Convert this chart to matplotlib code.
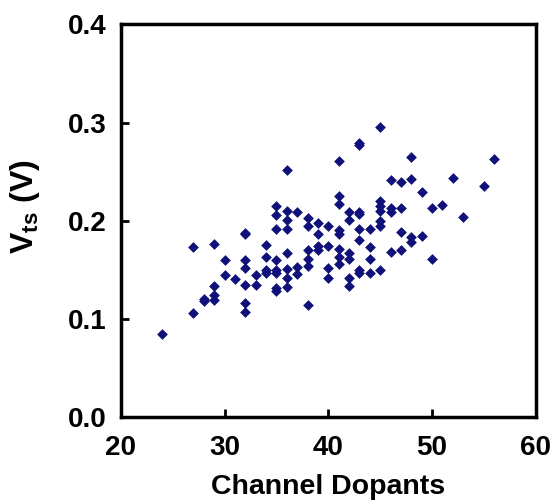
import matplotlib
matplotlib.use("Agg")
import matplotlib.pyplot as plt

dopants = [24,
           27, 27,
           28, 28,
           29, 29, 29, 29,
           30, 30,
           31,
           32, 32, 32, 32, 32, 32, 32,
           33, 33,
           34, 34, 34, 34,
           35, 35, 35, 35, 35, 35, 35, 35,
           36, 36, 36, 36, 36, 36, 36, 36,
           37, 37, 37,
           38, 38, 38, 38, 38, 38,
           39, 39, 39, 39,
           40, 40, 40, 40,
           41, 41, 41, 41, 41, 41, 41, 41,
           42, 42, 42, 42, 42, 42,
           43, 43, 43, 43, 43, 43, 43, 43,
           44, 44, 44, 44,
           45, 45, 45, 45, 45, 45, 45,
           46, 46, 46, 46,
           47, 47, 47, 47,
           48, 48, 48, 48,
           49, 49,
           50, 50,
           51, 52, 53, 55, 56]

vts = [0.085,
       0.173, 0.106,
       0.120, 0.118,
       0.176, 0.133, 0.124, 0.119,
       0.160, 0.145,
       0.141,
       0.188, 0.186, 0.160, 0.152, 0.135, 0.116, 0.107,
       0.145, 0.135,
       0.175, 0.163, 0.150, 0.147,
       0.215, 0.206, 0.192, 0.160, 0.150, 0.147, 0.131, 0.128,
       0.252, 0.210, 0.201, 0.192, 0.167, 0.151, 0.142, 0.132,
       0.209, 0.153, 0.146,
       0.203, 0.195, 0.170, 0.161, 0.154, 0.114,
       0.198, 0.187, 0.174, 0.170,
       0.195, 0.174, 0.152, 0.142,
       0.261, 0.225, 0.217, 0.191, 0.186, 0.171, 0.163, 0.156,
       0.209, 0.201, 0.167, 0.161, 0.142, 0.133,
       0.279, 0.277, 0.209, 0.207, 0.192, 0.180, 0.150, 0.147,
       0.192, 0.173, 0.161, 0.147,
       0.296, 0.220, 0.215, 0.210, 0.200, 0.195, 0.150,
       0.242, 0.213, 0.209, 0.168,
       0.239, 0.213, 0.189, 0.170,
       0.265, 0.243, 0.183, 0.178,
       0.229, 0.184,
       0.213, 0.161,
       0.216, 0.244, 0.204, 0.235, 0.263]

xticks = [20, 30, 40, 50, 60]
yticks = [0.0, 0.1, 0.2, 0.3, 0.4]

plt.rcParams['font.family'] = ['Liberation Sans', 'DejaVu Sans']
plt.rcParams['mathtext.fontset'] = 'custom'
plt.rcParams['mathtext.rm'] = 'Liberation Sans:bold'
plt.rcParams['mathtext.bf'] = 'Liberation Sans:bold'

fig = plt.figure(figsize=(5.57, 5.04), dpi=100)
ax = fig.add_axes([0.217, 0.1726, 0.745, 0.7788])

ax.scatter(dopants, vts, marker='D', s=30, color='#10107a', linewidths=0, zorder=3)

ax.set_xlim(20, 60)
ax.set_ylim(0.0, 0.4)
ax.set_xticks(xticks)
ax.set_yticks(yticks)
ax.set_xticklabels([f"{t}" for t in xticks], fontsize=20, fontweight='bold')
ax.set_yticklabels([f"{t:.1f}" for t in yticks], fontsize=20, fontweight='bold')
ax.tick_params(direction='in', length=6, width=2)
ax.tick_params(axis='x', pad=13)
ax.tick_params(axis='y', pad=10)

for sp in ax.spines.values():
    sp.set_linewidth(2.5)
    sp.set_color('black')

ax.set_xlabel('Channel Dopants', fontsize=20.5, fontweight='bold', labelpad=9)
ax.set_ylabel(r'V$_{\mathrm{ts}}$ (V)', fontsize=23, fontweight='bold')
ax.yaxis.set_label_coords(-0.19, 0.535)

fig.savefig('out.png', dpi=100)
